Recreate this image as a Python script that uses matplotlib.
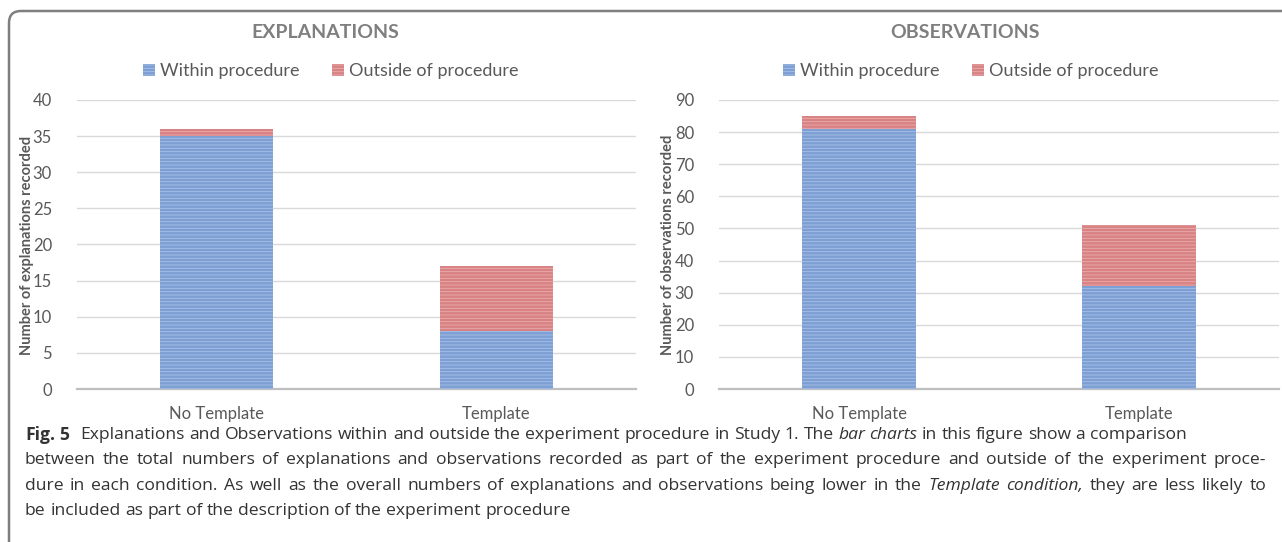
import matplotlib
matplotlib.use("Agg")
import matplotlib.pyplot as plt
from matplotlib.patches import FancyBboxPatch, Patch

# data
categories = ["No Template", "Template"]
expl_within = [35, 8]
expl_outside = [1, 9]
obs_within = [81, 32]
obs_outside = [4, 19]
series_names = ["Within procedure", "Outside of procedure"]

plt.rcParams['font.family'] = ['Lato', 'DejaVu Sans']
plt.rcParams['hatch.linewidth'] = 0.6

W, H = 1282, 542
fig = plt.figure(figsize=(W / 100, H / 100), dpi=100)

BLUE, BLUE_STRIPE = '#7d9fd4', '#a9c1e6'
RED, RED_STRIPE = '#d98284', '#ebacad'
GRAY_TXT = '#595959'


def px(x, y):
    # pixel (from top-left) to figure fraction
    return x / W, 1 - y / H


def draw_panel(rect, within, outside, ymax, step, title, ylabel, cx, ylab_x):
    ax = fig.add_axes(rect)
    ax.bar(categories, within, width=0.405, color=BLUE, edgecolor=BLUE_STRIPE,
           linewidth=0, hatch='-----', zorder=3)
    ax.bar(categories, outside, bottom=within, width=0.405, color=RED,
           edgecolor=RED_STRIPE, linewidth=0, hatch='-----', zorder=3)
    ax.set_xlim(-0.5, 1.5)
    ax.set_ylim(0, ymax)
    ax.set_yticks(range(0, ymax + 1, step))
    ax.grid(axis='y', color='#d9d9d9', linewidth=1, zorder=0)
    for s in ['top', 'right', 'left']:
        ax.spines[s].set_visible(False)
    ax.spines['bottom'].set_color('#bfbfbf')
    ax.spines['bottom'].set_linewidth(1.6)
    ax.tick_params(length=0, colors=GRAY_TXT, labelsize=12)
    ax.tick_params(axis='y', pad=18)
    ax.tick_params(axis='x', pad=12)

    fig.text(*px(cx, 33), title, ha='center', va='center', fontsize=14,
             fontweight='bold', color='#7f7f7f')
    fig.text(*px(ylab_x, 245), ylabel, ha='center', va='center', rotation=90,
             fontsize=10.5, fontweight='bold', color=GRAY_TXT)
    handles = [Patch(facecolor=BLUE, edgecolor=BLUE_STRIPE, hatch='-----', linewidth=0),
               Patch(facecolor=RED, edgecolor=RED_STRIPE, hatch='-----', linewidth=0)]
    fig.legend(handles, series_names, loc='center', bbox_to_anchor=px(cx + 6, 71),
               ncol=2, frameon=False, fontsize=13, handlelength=0.65,
               handleheight=0.65, handletextpad=0.3, columnspacing=1.8,
               labelcolor=GRAY_TXT)
    return ax


draw_panel([77 / W, 153 / H, 559 / W, 289 / H], expl_within, expl_outside, 40, 5,
           "EXPLANATIONS", "Number of explanations recorded", 325, 27)
draw_panel([719 / W, 153 / H, 560 / W, 289 / H], obs_within, obs_outside, 90, 10,
           "OBSERVATIONS", "Number of observations recorded", 965, 668)

# frame around the figure (right and bottom run off the image)
frame = FancyBboxPatch((9, -20), 1400, 551, boxstyle="round,pad=0,rounding_size=12",
                       transform=None, fill=False, edgecolor='#7f7f7f', linewidth=1.8)
fig.patches.append(frame)

# caption
caption = [
    ([("Fig. 5", 'bold', 'normal'),
      ("Explanations and Observations within and outside the experiment procedure in Study 1. The", 'normal', 'normal'),
      ("bar charts", 'normal', 'italic'),
      ("in this figure show a comparison", 'normal', 'normal')], False),
    ([("between the total numbers of explanations and observations recorded as part of the experiment procedure and outside of the experiment proce-", 'normal', 'normal')], True),
    ([("dure in each condition. As well as the overall numbers of explanations and observations being lower in the", 'normal', 'normal'),
      ("Template condition,", 'normal', 'italic'),
      ("they are less likely to", 'normal', 'normal')], True),
    ([("be included as part of the description of the experiment procedure", 'normal', 'normal')], False),
]
line_y = [435, 460, 486, 511]
x_left, x_right = 25, 1266
cap_size = 12.6
cap_family = ['Open Sans', 'DejaVu Sans']
renderer = fig.canvas.get_renderer()


def width_of(s, weight, style):
    t = fig.text(0, 0, s, fontsize=cap_size, fontweight=weight, fontstyle=style,
                 family=cap_family)
    w = t.get_window_extent(renderer).width
    t.remove()
    return w


space_w = width_of("x x", 'normal', 'normal') - width_of("xx", 'normal', 'normal')

for (runs, justify), y in zip(caption, line_y):
    words = []
    for text, weight, style in runs:
        for p in text.split(' '):
            words.append((p, weight, style))
    widths = [width_of(w, wt, st) for w, wt, st in words]
    gaps = [space_w] * (len(words) - 1)
    if runs[0][0] == "Fig. 5":
        gaps[1] = space_w * 2.5
    if justify:
        extra = (x_right - x_left - sum(widths) - sum(gaps)) / len(gaps)
        gaps = [g + extra for g in gaps]
    x = x_left
    for i, ((w, wt, st), wd) in enumerate(zip(words, widths)):
        fig.text(*px(x, y), w, fontsize=cap_size, fontweight=wt, fontstyle=st,
                 family=cap_family, color='#333333', ha='left', va='center')
        x += wd + (gaps[i] if i < len(gaps) else 0)

fig.savefig("out.png", dpi=100)
